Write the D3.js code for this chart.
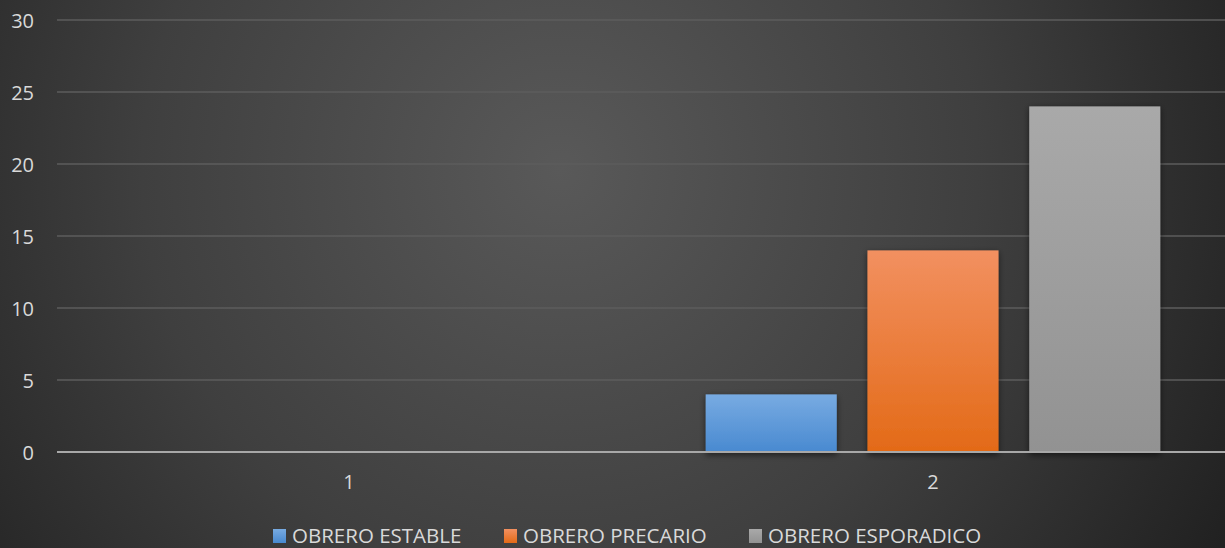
<!DOCTYPE html>
<html>
<head>
<meta charset="utf-8">
<script src="https://cdn.jsdelivr.net/npm/d3@7"></script>
<style>
  html, body { margin: 0; padding: 0; background: #2b2b2b; }
  svg { display: block; }
</style>
</head>
<body>
<svg id="chart" width="1225" height="548"></svg>
<script>
// Categories, series and tick values
const categories = ["1", "2"];
const seriesNames = ["OBRERO ESTABLE", "OBRERO PRECARIO", "OBRERO ESPORADICO"];
const valuesCat1 = [0, 0, 0];
const valuesCat2 = [4, 14, 24];
const yTicks = [0, 5, 10, 15, 20, 25, 30];

const W = 1225, H = 548;
const margin = { left: 57, right: 0, top: 20, bottom: 96 };
const svg = d3.select("#chart");
const defs = svg.append("defs");

// Background: soft radial glow on a dark field
const bg = defs.append("radialGradient").attr("id", "bg")
  .attr("gradientUnits", "userSpaceOnUse")
  .attr("cx", 560).attr("cy", 170).attr("r", 760);
bg.append("stop").attr("offset", "0%").attr("stop-color", "#595959");
bg.append("stop").attr("offset", "55%").attr("stop-color", "#3f3f3f");
bg.append("stop").attr("offset", "100%").attr("stop-color", "#212121");
svg.append("rect").attr("width", W).attr("height", H).attr("fill", "url(#bg)");

// Bar fills
const fills = [
  ["#78abe2", "#4889d0"],
  ["#f29060", "#e36a17"],
  ["#a9a9a9", "#929292"]
];
fills.forEach((f, i) => {
  const g = defs.append("linearGradient").attr("id", "bar" + i)
    .attr("x1", 0).attr("y1", 0).attr("x2", 0).attr("y2", 1);
  g.append("stop").attr("offset", "0%").attr("stop-color", f[0]);
  g.append("stop").attr("offset", "100%").attr("stop-color", f[1]);
});
const shadow = defs.append("filter").attr("id", "shadow")
  .attr("x", "-20%").attr("y", "-20%").attr("width", "140%").attr("height", "140%");
shadow.append("feDropShadow").attr("dx", 0).attr("dy", 2).attr("stdDeviation", 3)
  .attr("flood-color", "#000").attr("flood-opacity", 0.55);

const x0 = d3.scaleBand().domain(categories)
  .range([margin.left, W - margin.right]).paddingInner(0).paddingOuter(0);
const x1 = d3.scaleBand().domain(seriesNames)
  .range([0, x0.bandwidth()]).paddingInner(0.19).paddingOuter(0.4);
const y = d3.scaleLinear().domain([0, 30]).range([452, 20]);

const font = "'Open Sans', sans-serif";

// Horizontal gridlines
svg.append("g").selectAll("line").data(yTicks.filter(d => d > 0)).join("line")
  .attr("x1", margin.left).attr("x2", W)
  .attr("y1", d => y(d)).attr("y2", d => y(d))
  .attr("stroke", "#5d5d5d").attr("stroke-width", 1.5);

// Y axis labels
const yAxis = d3.axisLeft(y).tickValues(yTicks).tickSize(0).tickPadding(0);
const ya = svg.append("g").attr("transform", "translate(34,0)").call(yAxis);
ya.select(".domain").remove();
ya.selectAll("text").attr("fill", "#d9d9d9").style("font-family", font)
  .style("font-size", "20px").attr("dy", "0.35em");

// Bars
const data = [valuesCat1, valuesCat2];
const groups = svg.append("g").selectAll("g").data(categories).join("g")
  .attr("transform", d => `translate(${x0(d)},0)`);
groups.selectAll("rect")
  .data((c, ci) => seriesNames.map((s, si) => ({ s, si, v: data[ci][si] })).filter(d => d.v > 0))
  .join("rect")
  .attr("x", d => x1(d.s))
  .attr("width", x1.bandwidth())
  .attr("y", d => y(d.v))
  .attr("height", d => y(0) - y(d.v) + 1)
  .attr("fill", d => `url(#bar${d.si})`)
  .attr("filter", "url(#shadow)");

// Zero baseline
svg.append("line").attr("x1", margin.left).attr("x2", W)
  .attr("y1", y(0)).attr("y2", y(0))
  .attr("stroke", "#a8a8a8").attr("stroke-width", 2.2);

// Category labels
const xAxis = d3.axisBottom(x0).tickSize(0).tickPadding(0);
const xa = svg.append("g").attr("transform", `translate(0,${y(0) + 22})`).call(xAxis);
xa.select(".domain").remove();
xa.selectAll("text").attr("fill", "#d9d9d9").style("font-family", font)
  .style("font-size", "20px").attr("dy", "0.35em").attr("y", 8);

// Legend
const legendX = [273, 504, 749];
const leg = svg.append("g").selectAll("g").data(seriesNames).join("g")
  .attr("transform", (d, i) => `translate(${legendX[i]},536)`);
leg.append("rect").attr("x", 0).attr("y", -7).attr("width", 13).attr("height", 14)
  .attr("fill", (d, i) => `url(#bar${i})`);
leg.append("text").attr("x", 19).attr("dy", "0.35em").text(d => d)
  .attr("fill", "#d9d9d9").style("font-family", font).style("font-size", "20.5px");
</script>
</body>
</html>
